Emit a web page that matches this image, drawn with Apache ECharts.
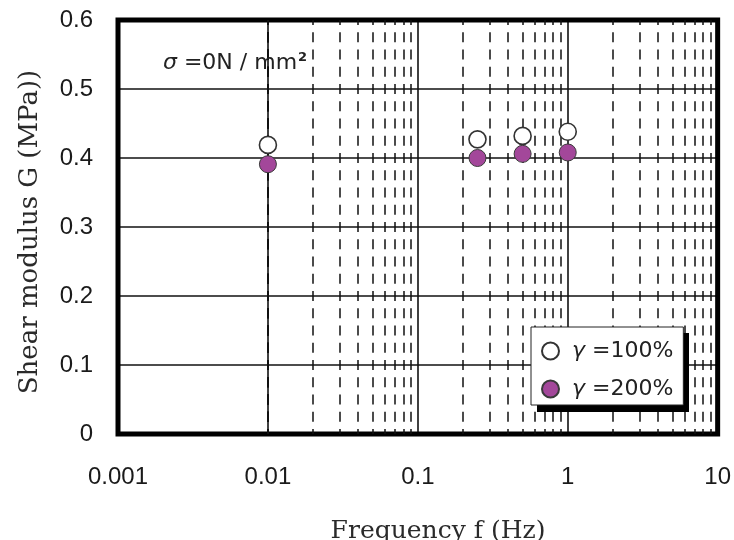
<!DOCTYPE html>
<html><head><meta charset="utf-8">
<script src="https://cdn.jsdelivr.net/npm/echarts@6/dist/echarts.min.js"></script>
<style>html,body{margin:0;padding:0;background:#fff}#c{width:734px;height:540px}</style>
</head><body><div id="c"></div>
<script>
// ---- data ----
const freq = [0.01, 0.25, 0.5, 1];
const g100 = [0.419, 0.427, 0.432, 0.438];
const g200 = [0.391, 0.400, 0.406, 0.408];
const seriesNames = ['γ =100%', 'γ =200%'];
const xTickLabels = ['0.001', '0.01', '0.1', '1', '10'];
const yTickLabels = ['0', '0.1', '0.2', '0.3', '0.4', '0.5', '0.6'];
const minorX = [0.002, 0.003, 0.004, 0.005, 0.006, 0.007, 0.008, 0.009,
                0.02, 0.03, 0.04, 0.05, 0.06, 0.07, 0.08, 0.09,
                0.2, 0.3, 0.4, 0.5, 0.6, 0.7, 0.8, 0.9,
                2, 3, 4, 5, 6, 7, 8, 9];
const annotationText = ['σ', ' =0N / mm', '2'];
const xTitle = 'Frequency f (Hz)';
const yTitle = 'Shear modulus G (MPa))';

const chart = echarts.init(document.getElementById('c'), null, {renderer: 'canvas'});
const pairs = (xs, ys) => xs.map((x, i) => [x, ys[i]]);

const option = {
  animation: false,
  backgroundColor: '#fff',
  grid: {left: 118, top: 20, width: 600, height: 414, show: true,
         borderColor: '#000', borderWidth: 5, backgroundColor: 'transparent', z: 5},
  xAxis: {
    type: 'log', logBase: 10, min: 0.001, max: 10,
    axisLine: {show: false}, axisTick: {show: false},
    splitLine: {show: true, lineStyle: {color: '#111', width: 1.6}},
    minorTick: {show: false}, minorSplitLine: {show: false},
    axisLabel: {
      margin: 31, color: '#1a1a1a', fontFamily: 'Liberation Sans', fontSize: 24,
      formatter: function (v) {
        for (const l of xTickLabels) {
          if (Math.abs(Math.log10(v) - Math.log10(parseFloat(l))) < 1e-6) return l;
        }
        return '';
      }
    }
  },
  yAxis: {
    type: 'value', min: 0, max: 0.6, interval: 0.1,
    axisLine: {show: false}, axisTick: {show: false},
    splitLine: {show: true, lineStyle: {color: '#111', width: 1.6}},
    axisLabel: {
      margin: 25, color: '#1a1a1a', fontFamily: 'Liberation Sans', fontSize: 24,
      padding: [5, 0, 0, 0],
      formatter: function (v) {
        for (const l of yTickLabels) { if (Math.abs(v - parseFloat(l)) < 1e-9) return l; }
        return '';
      }
    }
  },
  legend: {
    data: seriesNames, z: 50,
    orient: 'vertical', left: 531, top: 327,
    padding: [13, 10, 5, 10], itemGap: 16,
    itemWidth: 17, itemHeight: 17,
    backgroundColor: '#fff', borderColor: '#222', borderWidth: 1, borderRadius: 0,
    selectedMode: false,
    formatter: function (name) {
      const i = name.indexOf('γ');
      return '{g|γ}{t|' + name.slice(i + 1) + '}';
    },
    textStyle: {
      fontFamily: 'DejaVu Sans', fontSize: 22, color: '#222', lineHeight: 22,
      rich: {
        g: {fontFamily: 'DejaVu Sans', fontStyle: 'italic', fontSize: 22, color: '#222', padding: [0, 0, 0, 8]},
        t: {fontFamily: 'DejaVu Sans', fontSize: 22, color: '#222'}
      }
    }
  },
  graphic: [
    {type: 'rect', z: 40, shape: {x: 537, y: 333, width: 152, height: 79},
     style: {fill: '#000'}, silent: true},
    {type: 'text', x: 163, y: 63, z: 20,
     style: {
       text: '{i|' + annotationText[0] + '}{n|' + annotationText[1] + '}{s|' + annotationText[2] + '}',
       verticalAlign: 'middle', align: 'left',
       rich: {
         i: {fontFamily: 'DejaVu Sans', fontStyle: 'italic', fontSize: 22, fill: '#222'},
         n: {fontFamily: 'DejaVu Sans', fontSize: 22, fill: '#222'},
         s: {fontFamily: 'DejaVu Sans', fontSize: 13, fontWeight: 'bold', fill: '#222', verticalAlign: 'top', padding: [0, 0, 10, 1]}
       }
     }},
    {type: 'text', x: 438, y: 531, z: 20,
     style: {text: xTitle, fontFamily: 'DejaVu Serif', fontSize: 25, fill: '#2a2a2a',
             align: 'center', verticalAlign: 'middle'}},
    {type: 'text', x: 30, y: 232, rotation: Math.PI / 2, z: 20,
     style: {text: yTitle, fontFamily: 'DejaVu Serif', fontSize: 26, fill: '#2a2a2a',
             align: 'center', verticalAlign: 'middle'}}
  ],
  series: [
    {
      name: 'minor', type: 'line', data: [], z: 1, silent: true,
      markLine: {
        silent: true, symbol: ['none', 'none'], label: {show: false},
        animation: false,
        lineStyle: {color: '#111', width: 1.5, type: [10, 7.25], dashOffset: 5},
        emphasis: {disabled: true},
        data: minorX.map(v => ({xAxis: v}))
      }
    },
    {
      name: seriesNames[0], type: 'scatter', z: 10, symbol: 'circle', symbolSize: 17,
      itemStyle: {color: '#fff', borderColor: '#333', borderWidth: 1.6, opacity: 1},
      data: pairs(freq, g100)
    },
    {
      name: seriesNames[1], type: 'scatter', z: 10, symbol: 'circle', symbolSize: 17,
      itemStyle: {color: '#a3479a', borderColor: '#3a3a3a', borderWidth: 1, opacity: 1},
      data: pairs(freq, g200)
    }
  ]
};
chart.setOption(option);
</script></body></html>
